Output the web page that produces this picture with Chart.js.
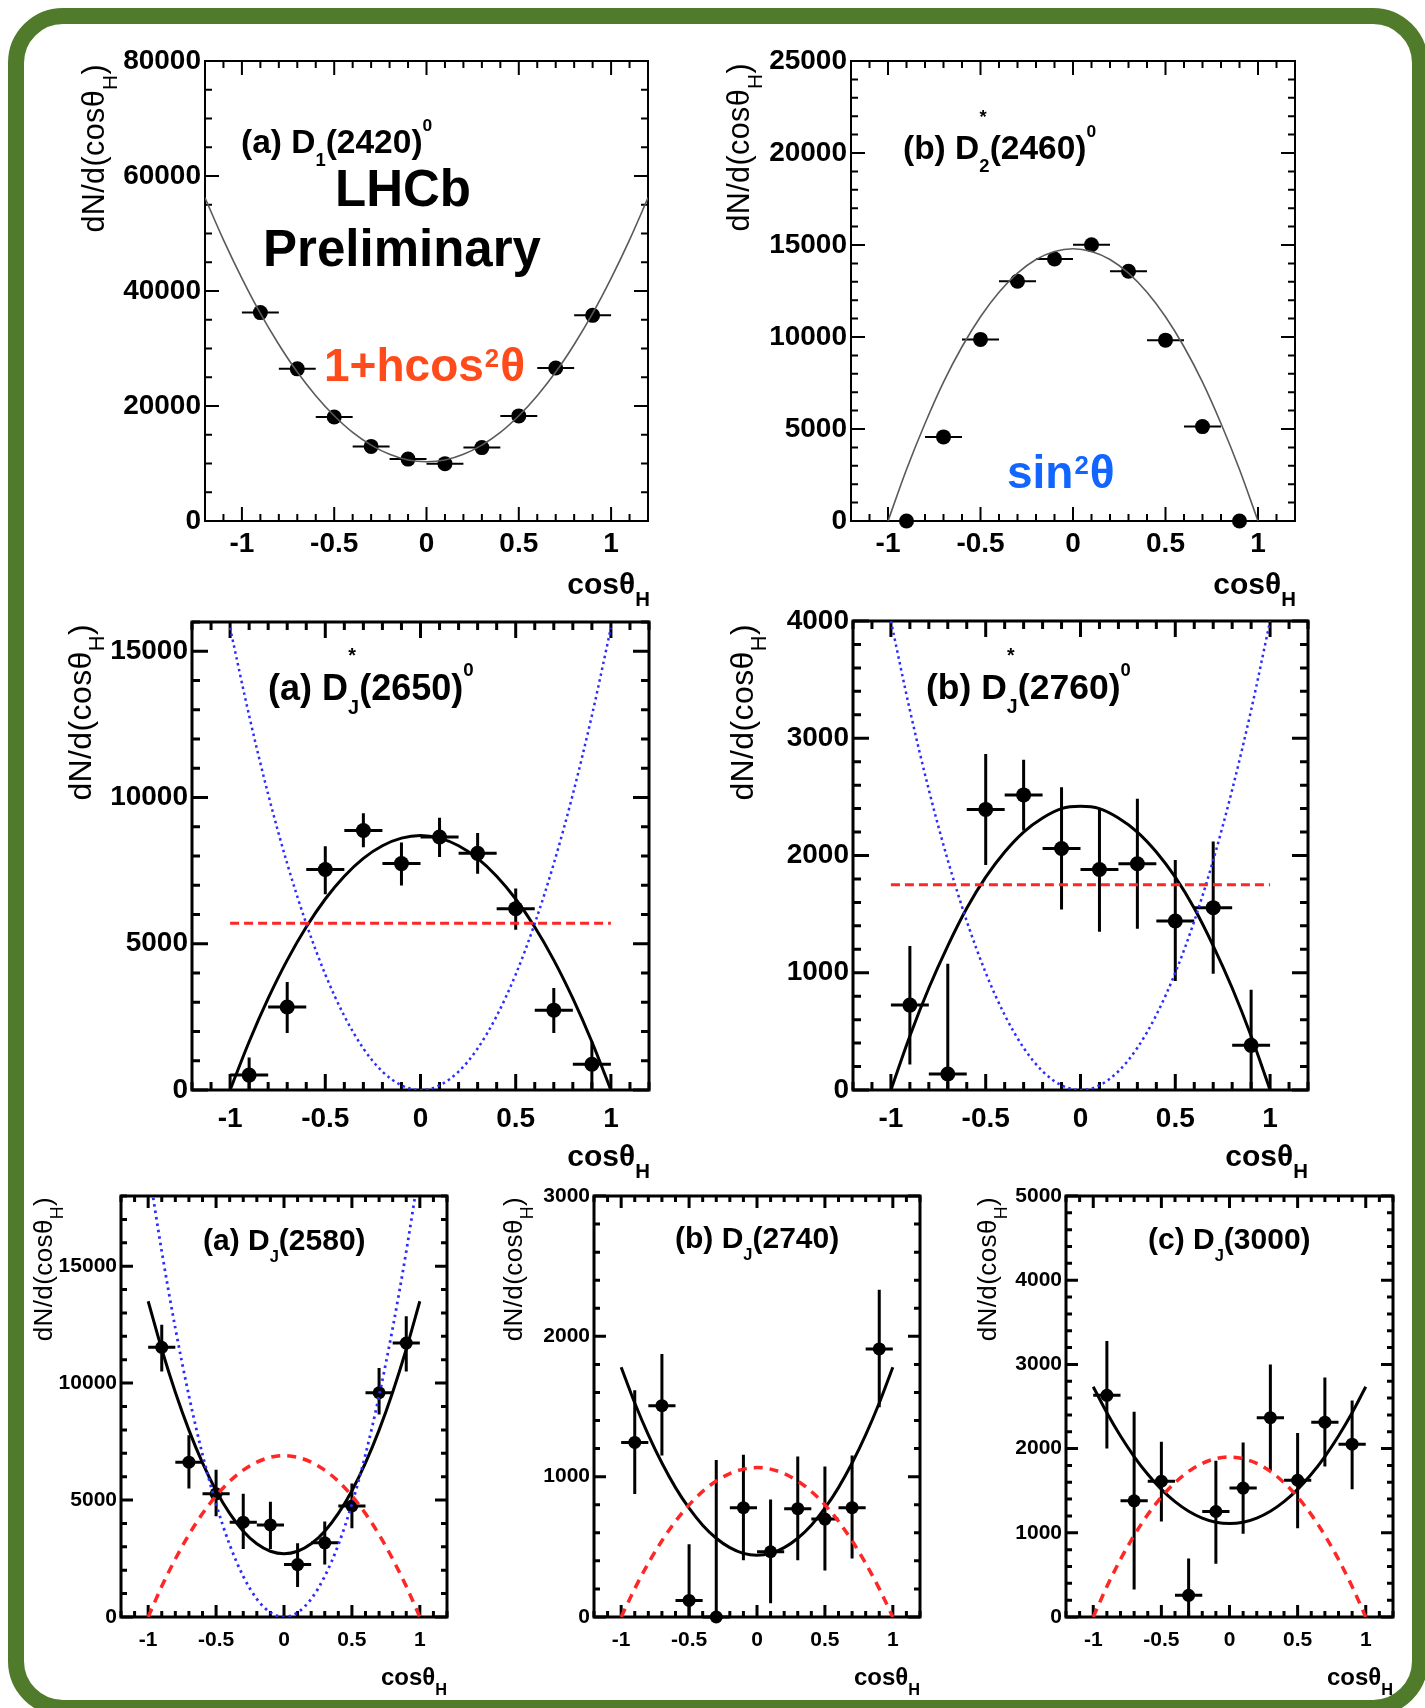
<!DOCTYPE html>
<html>
<head>
<meta charset="utf-8">
<script src="https://cdn.jsdelivr.net/npm/chart.js@4.4.1/dist/chart.umd.min.js"></script>
<style>
html, body { margin: 0; padding: 0; background: #fff; }
#page { position: relative; width: 1425px; height: 1708px; overflow: hidden; background: #fff; }
#frame { position: absolute; left: 8px; top: 8px; width: 1420px; height: 1708px; box-sizing: border-box;
         border: 16px solid #4f7b2b; border-radius: 55px; }
canvas { position: absolute; }
.t { position: absolute; white-space: nowrap; font-family: "Liberation Sans", Arial, Helvetica, sans-serif;
     line-height: 1; color: #000; }
.b { font-weight: bold; }
.sub { font-size: calc(var(--fs) * 0.55); position: relative; top: calc(var(--fs) * 0.4); }
.subH { font-size: calc(var(--fs) * 0.68); position: relative; top: calc(var(--fs) * 0.42); }
.sup { font-size: calc(var(--fs) * 0.52); position: relative; top: calc(var(--fs) * -0.64); }
.sup2 { font-size: calc(var(--fs) * 0.56); position: relative; top: calc(var(--fs) * -0.3); margin: 0 1px; }
.star { font-size: calc(var(--fs) * 0.55); position: relative; top: calc(var(--fs) * -1.05);
        margin-left: calc(var(--fs) * -0.3); margin-right: calc(var(--fs) * 0.09); }
.rot { transform-origin: 0 0; transform: rotate(-90deg); width: 300px; text-align: right; letter-spacing: 0.4px; }
</style>
</head>
<body>
<div id="page"><div id="frame"></div></div>
<script>
// angular distributions, 10 bins in cos(theta_H)
const binCenters = [-0.9, -0.7, -0.5, -0.3, -0.1, 0.1, 0.3, 0.5, 0.7, 0.9];
const binHalfWidth = 0.1;
const xTickLabels = [-1, -0.5, 0, 0.5, 1];
const curveX = [-1, -0.9, -0.8, -0.7, -0.6, -0.5, -0.4, -0.3, -0.2, -0.1, 0, 0.1, 0.2, 0.3, 0.4, 0.5, 0.6, 0.7, 0.8, 0.9, 1];
const curveXWide = [-1.2, -1.1, -1, -0.9, -0.8, -0.7, -0.6, -0.5, -0.4, -0.3, -0.2, -0.1, 0, 0.1, 0.2, 0.3, 0.4, 0.5, 0.6, 0.7, 0.8, 0.9, 1, 1.1, 1.2];
const flatX = [-1, 1];

// (a) D1(2420)0
const d2420YTicks = [0, 20000, 40000, 60000, 80000];
const d2420Yield = [36240, 26460, 18090, 12970, 10770, 9970, 12770, 18280, 26600, 35770];
const d2420ErrUp = [400, 400, 400, 400, 400, 400, 400, 400, 400, 400];
const d2420ErrDown = [400, 400, 400, 400, 400, 400, 400, 400, 400, 400];
const d2420Fit = [56200, 48900, 42200, 36100, 30700, 25900, 21800, 18300, 15400, 13200, 11600, 10600, 10300,
                  10600, 11600, 13200, 15400, 18300, 21800, 25900, 30700, 36100, 42200, 48900, 56200];

// (b) D2*(2460)0
const d2460YTicks = [0, 5000, 10000, 15000, 20000, 25000];
const d2460Yield = [0, 4570, 9870, 13030, 14240, 15010, 13570, 9830, 5130, 0];
const d2460ErrUp = [300, 300, 300, 300, 300, 300, 300, 300, 300, 300];
const d2460ErrDown = [0, 300, 300, 300, 300, 300, 300, 300, 300, 0];
const d2460Fit = [0, 2800, 5300, 7550, 9470, 11100, 12430, 13470, 14210, 14650, 14800,
                  14650, 14210, 13470, 12430, 11100, 9470, 7550, 5300, 2800, 0];

// (a) DJ*(2650)0
const d2650YTicks = [0, 5000, 10000, 15000];
const d2650Yield = [510, 2840, 7540, 8870, 7740, 8650, 8090, 6200, 2730, 880];
const d2650ErrUp = [600, 850, 790, 590, 720, 660, 700, 690, 760, 780];
const d2650ErrDown = [510, 890, 850, 570, 750, 680, 700, 720, 780, 880];
const d2650Fit = [0, 1650, 3130, 4440, 5570, 6530, 7310, 7920, 8350, 8610, 8700,
                  8610, 8350, 7920, 7310, 6530, 5570, 4440, 3130, 1650, 0];
const d2650Flat = [5700, 5700];
const d2650Cos2 = [15800, 12800, 10110, 7740, 5690, 3950, 2530, 1420, 630, 160, 0,
                   160, 630, 1420, 2530, 3950, 5690, 7740, 10110, 12800, 15800];

// (b) DJ*(2760)0
const d2760YTicks = [0, 1000, 2000, 3000, 4000];
const d2760Yield = [724, 137, 2393, 2517, 2060, 1881, 1930, 1441, 1555, 381];
const d2760ErrUp = [505, 940, 473, 300, 522, 522, 554, 521, 564, 473];
const d2760ErrDown = [506, 137, 473, 303, 521, 531, 554, 512, 564, 381];
const d2760Fit = [0, 460, 870, 1230, 1550, 1815, 2030, 2200, 2320, 2400, 2420,
                  2400, 2320, 2200, 2030, 1815, 1550, 1230, 870, 460, 0];
const d2760Flat = [1750, 1750];
const d2760Cos2 = [4000, 3240, 2560, 1960, 1440, 1000, 640, 360, 160, 40, 0,
                   40, 160, 360, 640, 1000, 1440, 1960, 2560, 3240, 4000];

// (a) DJ(2580)
const d2580YTicks = [0, 5000, 10000, 15000];
const d2580Yield = [11530, 6620, 5265, 4056, 3938, 2242, 3171, 4749, 9587, 11711];
const d2580ErrUp = [960, 1150, 1035, 1210, 988, 914, 914, 959, 1062, 1150];
const d2580ErrDown = [1030, 1130, 955, 1150, 1032, 959, 929, 959, 929, 1211];
const d2580Fit = [13500, 11450, 9610, 7990, 6590, 5400, 4430, 3670, 3130, 2810, 2700,
                  2810, 3130, 3670, 4430, 5400, 6590, 7990, 9610, 11450, 13500];
const d2580Sin2 = [0, 1310, 2480, 3520, 4420, 5180, 5800, 6280, 6620, 6830, 6900,
                   6830, 6620, 6280, 5800, 5180, 4420, 3520, 2480, 1310, 0];
const d2580Cos2 = [19300, 15630, 12350, 9460, 6950, 4830, 3090, 1740, 770, 190, 0,
                   190, 770, 1740, 3090, 4830, 6950, 9460, 12350, 15630, 19300];

// (b) DJ(2740)
const d2740YTicks = [0, 1000, 2000, 3000];
const d2740Yield = [1244, 1506, 118, 0, 779, 465, 772, 698, 779, 1910];
const d2740ErrUp = [372, 368, 401, 1119, 377, 373, 372, 375, 372, 422];
const d2740ErrDown = [367, 355, 118, 0, 375, 367, 368, 367, 363, 416];
const d2740Fit = [1780, 1525, 1298, 1097, 922, 775, 654, 561, 494, 453, 440,
                  453, 494, 561, 654, 775, 922, 1097, 1298, 1525, 1780];
const d2740Sin2 = [0, 202, 383, 543, 682, 799, 895, 969, 1022, 1054, 1065,
                   1054, 1022, 969, 895, 799, 682, 543, 383, 202, 0];

// (c) DJ(3000)
const d3000YTicks = [0, 1000, 2000, 3000, 4000, 5000];
const d3000Yield = [2633, 1380, 1612, 257, 1253, 1531, 2367, 1624, 2314, 2053];
const d3000ErrUp = [645, 1057, 470, 437, 604, 542, 633, 560, 531, 518];
const d3000ErrDown = [633, 1053, 477, 257, 620, 543, 632, 571, 526, 535];
const d3000Fit = [2735, 2426, 2150, 1906, 1695, 1516, 1370, 1256, 1175, 1126, 1110,
                  1126, 1175, 1256, 1370, 1516, 1695, 1906, 2150, 2426, 2735];
const d3000Sin2 = [0, 361, 684, 969, 1216, 1425, 1596, 1729, 1824, 1881, 1900,
                   1881, 1824, 1729, 1596, 1425, 1216, 969, 684, 361, 0];

const RED = '#ff2626';
const BLUE = '#2c2cff';
const FONT = '"Liberation Sans", Arial, Helvetica, sans-serif';

// frame = [left, top, right, bottom] of each plot box on the page
const panels = [
  { frame: [205, 61, 648, 521], yMax: 80000, yTicks: d2420YTicks, yMinor: 5000,
    yields: d2420Yield, up: d2420ErrUp, down: d2420ErrDown,
    curves: [{ x: curveXWide, y: d2420Fit, color: '#5a5a5a', width: 1.6 }],
    font: 28, xPad: 6, lw: 2, major: 14, minor: 7, marker: 7.5, errW: 2 },
  { frame: [851, 61, 1295, 521], yMax: 25000, yTicks: d2460YTicks, yMinor: 1000,
    yields: d2460Yield, up: d2460ErrUp, down: d2460ErrDown,
    curves: [{ x: curveX, y: d2460Fit, color: '#5a5a5a', width: 1.6 }],
    font: 28, xPad: 6, lw: 2, major: 14, minor: 7, marker: 7.5, errW: 2 },
  { frame: [192, 622, 649, 1090], yMax: 16000, yTicks: d2650YTicks, yMinor: 1000,
    yields: d2650Yield, up: d2650ErrUp, down: d2650ErrDown,
    curves: [{ x: flatX, y: d2650Flat, color: RED, width: 3, dash: [9, 5] },
             { x: curveX, y: d2650Cos2, color: BLUE, width: 2.5, dash: [2.5, 3.5] },
             { x: curveX, y: d2650Fit, color: '#000', width: 3 }],
    font: 28, xPad: 12, lw: 3, major: 16, minor: 8, marker: 7.5, errW: 3 },
  { frame: [853, 621, 1308, 1090], yMax: 4000, yTicks: d2760YTicks, yMinor: 200,
    yields: d2760Yield, up: d2760ErrUp, down: d2760ErrDown,
    curves: [{ x: flatX, y: d2760Flat, color: RED, width: 3, dash: [9, 5] },
             { x: curveX, y: d2760Cos2, color: BLUE, width: 2.5, dash: [2.5, 3.5] },
             { x: curveX, y: d2760Fit, color: '#000', width: 3 }],
    font: 28, xPad: 12, lw: 3, major: 16, minor: 8, marker: 7.5, errW: 3 },
  { frame: [121, 1196, 447, 1617], yMax: 18000, yTicks: d2580YTicks, yMinor: 1000,
    yields: d2580Yield, up: d2580ErrUp, down: d2580ErrDown,
    curves: [{ x: curveX, y: d2580Sin2, color: RED, width: 3.5, dash: [9, 7] },
             { x: curveX, y: d2580Cos2, color: BLUE, width: 2.8, dash: [2.5, 4] },
             { x: curveX, y: d2580Fit, color: '#000', width: 3 }],
    font: 21, xPad: 11, lw: 3, major: 12, minor: 6, marker: 6.5, errW: 3 },
  { frame: [594, 1196, 920, 1617], yMax: 3000, yTicks: d2740YTicks, yMinor: 200,
    yields: d2740Yield, up: d2740ErrUp, down: d2740ErrDown,
    curves: [{ x: curveX, y: d2740Sin2, color: RED, width: 3.5, dash: [9, 7] },
             { x: curveX, y: d2740Fit, color: '#000', width: 3 }],
    font: 21, xPad: 11, lw: 3, major: 12, minor: 6, marker: 6.5, errW: 3 },
  { frame: [1066, 1196, 1393, 1617], yMax: 5000, yTicks: d3000YTicks, yMinor: 200,
    yields: d3000Yield, up: d3000ErrUp, down: d3000ErrDown,
    curves: [{ x: curveX, y: d3000Sin2, color: RED, width: 3.5, dash: [9, 7] },
             { x: curveX, y: d3000Fit, color: '#000', width: 3 }],
    font: 21, xPad: 11, lw: 3, major: 12, minor: 6, marker: 6.5, errW: 3 }
];

// ROOT style box with inward ticks on all four sides
const rootFrame = {
  id: 'rootFrame',
  beforeDatasetsDraw(chart, args, o) {
    const { ctx, chartArea: a } = chart;
    const xs = chart.scales.x, ys = chart.scales.y;
    ctx.save();
    ctx.strokeStyle = '#000';
    ctx.lineWidth = o.lineWidth;
    ctx.beginPath();
    const nx = Math.round((xs.max - xs.min) / o.xMinor);
    for (let i = 0; i <= nx; i++) {
      const v = xs.min + i * o.xMinor;
      const len = xTickLabels.some(t => Math.abs(t - v) < 1e-6) ? o.major : o.minor;
      const px = xs.getPixelForValue(v);
      ctx.moveTo(px, a.bottom); ctx.lineTo(px, a.bottom - len);
      ctx.moveTo(px, a.top); ctx.lineTo(px, a.top + len);
    }
    const ny = Math.round((ys.max - ys.min) / o.yMinor);
    for (let i = 0; i <= ny; i++) {
      const v = ys.min + i * o.yMinor;
      const len = o.yTicks.some(t => Math.abs(t - v) < 1e-6) ? o.major : o.minor;
      const py = ys.getPixelForValue(v);
      ctx.moveTo(a.left, py); ctx.lineTo(a.left + len, py);
      ctx.moveTo(a.right, py); ctx.lineTo(a.right - len, py);
    }
    ctx.stroke();
    ctx.strokeRect(a.left, a.top, a.right - a.left, a.bottom - a.top);
    ctx.restore();
  }
};

function errorSegments(yv, up, down) {
  const pts = [];
  binCenters.forEach((x, i) => {
    pts.push({ x: x - binHalfWidth, y: yv[i] }, { x: x + binHalfWidth, y: yv[i] }, { x: x, y: null });
    pts.push({ x: x, y: yv[i] - down[i] }, { x: x, y: yv[i] + up[i] }, { x: x, y: null });
  });
  return pts;
}

const page = document.getElementById('page');

panels.forEach(p => {
  const [L, T, R, B] = p.frame;
  const yw = 100, pt = 24, pr = 24, xh = 60;
  const cv = document.createElement('canvas');
  cv.width = R - L + yw + pr;
  cv.height = B - T + pt + xh;
  cv.style.left = (L - yw) + 'px';
  cv.style.top = (T - pt) + 'px';
  page.appendChild(cv);

  const datasets = p.curves.map(c => ({
    data: c.x.map((x, i) => ({ x: x, y: c.y[i] })),
    showLine: true, borderColor: c.color, borderWidth: c.width, borderDash: c.dash || [],
    pointRadius: 0, cubicInterpolationMode: 'monotone', clip: 0
  }));
  datasets.push({
    data: binCenters.map((x, i) => ({ x: x, y: p.yields[i] })),
    pointRadius: p.marker, pointBackgroundColor: '#000', pointBorderColor: '#000', pointBorderWidth: 0,
    showLine: false, clip: false
  });
  datasets.push({
    data: errorSegments(p.yields, p.up, p.down),
    showLine: true, spanGaps: false, borderColor: '#000', borderWidth: p.errW,
    pointRadius: 0, clip: false
  });

  const tickFont = { family: FONT, size: p.font, weight: 'bold' };
  new Chart(cv.getContext('2d'), {
    type: 'scatter',
    data: { datasets: datasets },
    plugins: [rootFrame],
    options: {
      responsive: false, animation: false, events: [],
      layout: { padding: { left: 0, top: pt, right: pr, bottom: 0 }, autoPadding: false },
      plugins: {
        legend: { display: false }, tooltip: { enabled: false },
        rootFrame: { lineWidth: p.lw, major: p.major, minor: p.minor, xMinor: 0.1, yMinor: p.yMinor, yTicks: p.yTicks }
      },
      scales: {
        x: {
          type: 'linear', min: -1.2, max: 1.2,
          grid: { display: false, drawTicks: false }, border: { display: false },
          afterBuildTicks: ax => { ax.ticks = xTickLabels.map(v => ({ value: v })); },
          afterFit: ax => { ax.height = xh; },
          ticks: { autoSkip: false, maxRotation: 0, padding: p.xPad, color: '#000', font: tickFont, callback: v => String(v) }
        },
        y: {
          type: 'linear', min: 0, max: p.yMax,
          grid: { display: false, drawTicks: false }, border: { display: false },
          afterBuildTicks: ax => { ax.ticks = p.yTicks.map(v => ({ value: v })); },
          afterFit: ax => { ax.width = yw; },
          ticks: { autoSkip: false, padding: 4, color: '#000', font: tickFont, callback: v => String(v) }
        }
      }
    }
  });
});

// text
function addText(html, o) {
  const d = document.createElement('div');
  d.className = 't' + (o.bold ? ' b' : '');
  d.style.setProperty('--fs', o.fs + 'px');
  d.style.fontSize = o.fs + 'px';
  d.style.top = (o.base - 0.8465 * o.fs) + 'px';
  if (o.right != null) d.style.right = (1425 - o.right) + 'px';
  else if (o.center != null) { d.style.left = o.center + 'px'; d.style.transform = 'translateX(-50%)'; }
  else d.style.left = o.left + 'px';
  if (o.color) d.style.color = o.color;
  d.innerHTML = html;
  page.appendChild(d);
}
function addYTitle(x, topEnd, fs) {
  const d = document.createElement('div');
  d.className = 't rot';
  d.style.setProperty('--fs', fs + 'px');
  d.style.fontSize = fs + 'px';
  d.style.left = x + 'px';
  d.style.top = (topEnd + 300) + 'px';
  d.innerHTML = 'dN/d(cosθ<span class="subH">H</span>)';
  page.appendChild(d);
}
const xTitle = 'cosθ<span class="subH">H</span>';

addText('(a) D<span class="sub">1</span>(2420)<span class="sup">0</span>', { left: 241, base: 153, fs: 33.5, bold: true });
addText('(b) D<span class="sub">2</span><span class="star">*</span>(2460)<span class="sup">0</span>', { left: 903, base: 159, fs: 33.5, bold: true });
addText('(a) D<span class="sub">J</span><span class="star">*</span>(2650)<span class="sup">0</span>', { left: 268, base: 700, fs: 36, bold: true });
addText('(b) D<span class="sub">J</span><span class="star">*</span>(2760)<span class="sup">0</span>', { left: 926, base: 700, fs: 35.5, bold: true });
addText('(a) D<span class="sub">J</span>(2580)', { left: 203, base: 1250, fs: 30, bold: true });
addText('(b) D<span class="sub">J</span>(2740)', { left: 675, base: 1248, fs: 30, bold: true });
addText('(c) D<span class="sub">J</span>(3000)', { left: 1148, base: 1249, fs: 30, bold: true });

addText('LHCb', { center: 403, base: 206, fs: 51, bold: true });
addText('Preliminary', { center: 402, base: 266, fs: 51, bold: true });
addText('1+hcos<span class="sup2">2</span>θ', { left: 324, base: 381, fs: 46, bold: true, color: '#ff4a1a' });
addText('sin<span class="sup2">2</span>θ', { left: 1007, base: 488, fs: 46, bold: true, color: '#1266ff' });

addText(xTitle, { right: 650, base: 594, fs: 30, bold: true });
addText(xTitle, { right: 1296, base: 594, fs: 30, bold: true });
addText(xTitle, { right: 650, base: 1166, fs: 30, bold: true });
addText(xTitle, { right: 1308, base: 1166, fs: 30, bold: true });
addText(xTitle, { right: 447, base: 1685, fs: 24, bold: true });
addText(xTitle, { right: 920, base: 1685, fs: 24, bold: true });
addText(xTitle, { right: 1393, base: 1685, fs: 24, bold: true });

addYTitle(78, 64, 30.5);
addYTitle(723, 63, 30.5);
addYTitle(64, 624, 32);
addYTitle(726, 624, 32);
addYTitle(30, 1197, 26);
addYTitle(500, 1197, 26);
addYTitle(974, 1197, 26);
</script>
</body>
</html>
